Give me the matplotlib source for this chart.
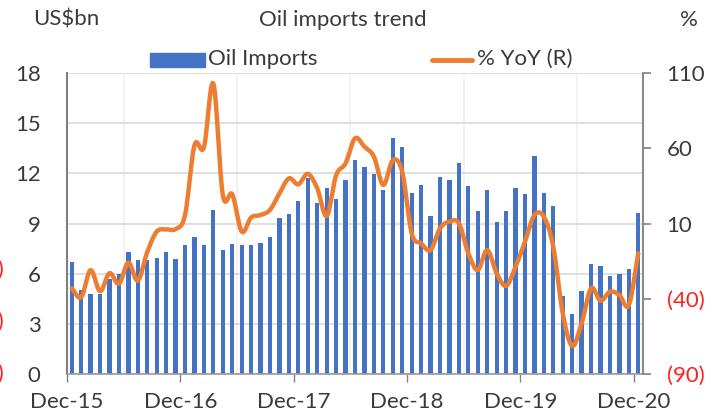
import numpy as np
import matplotlib
matplotlib.use("Agg")
import matplotlib.pyplot as plt
from matplotlib.patches import Rectangle
from matplotlib.lines import Line2D

plt.rcParams['font.family'] = ['Lato', 'DejaVu Sans']

# monthly data, Dec-15 .. Dec-20
imports_bn = [6.68, 5.04, 4.80, 4.80, 5.70, 6.00, 7.30, 6.82, 6.82, 6.92, 7.28, 6.86,
              7.70, 8.19, 7.74, 9.79, 7.40, 7.78, 7.70, 7.72, 7.84, 8.19, 9.33, 9.57,
              10.37, 11.70, 10.21, 11.14, 10.49, 11.60, 12.80, 12.36, 11.96, 11.00, 14.13, 13.56,
              10.81, 11.28, 9.45, 11.80, 11.60, 12.62, 11.22, 9.77, 11.02, 9.11, 9.75, 11.10,
              10.77, 13.04, 10.81, 10.07, 4.64, 3.57, 4.99, 6.56, 6.44, 5.84, 6.00, 6.28,
              9.61]
yoy_pct = [-33, -39, -21, -35, -23, -30, -16, -28, -9, 4.6, 6.1, 6.3,
           15.6, 62, 60.6, 103, 29, 29.4, 4.6, 14, 15.6, 19, 30, 40,
           36, 43, 33.4, 15, 42, 50, 66.6, 61, 54.4, 35.6, 52, 44.4,
           3.5, -3.2, -7.6, 6.8, 11.2, 10.1, -9.8, -20.9, -7.6, -23, -31.5, -18.7,
           -2.1, 15.6, 14.5, -5.4, -49.7, -71.4, -56.3, -33.1, -41.3, -35.3, -37.5, -44.2,
           -9.8]
tick_labels = ['Dec-15', 'Dec-16', 'Dec-17', 'Dec-18', 'Dec-19', 'Dec-20']
right_ticks = [110, 60, 10, -40, -90]

BLUE = '#4472C4'
ORANGE = '#ED7D31'
TXT = '#3a3a3a'
FS = 16


def smooth(x, y, n=12):
    # catmull-rom style smoothing like excel's smoothed line
    x = np.asarray(x, float)
    y = np.asarray(y, float)
    px = np.concatenate([[2 * x[0] - x[1]], x, [2 * x[-1] - x[-2]]])
    py = np.concatenate([[2 * y[0] - y[1]], y, [2 * y[-1] - y[-2]]])
    xs, ys = [], []
    t = np.linspace(0, 1, n, endpoint=False)
    for i in range(1, len(px) - 2):
        for p, out in ((px, xs), (py, ys)):
            p0, p1, p2, p3 = p[i - 1], p[i], p[i + 1], p[i + 2]
            out.extend(0.5 * (2 * p1 + (-p0 + p2) * t + (2 * p0 - 5 * p1 + 4 * p2 - p3) * t ** 2
                              + (-p0 + 3 * p1 - 3 * p2 + p3) * t ** 3))
    xs.append(x[-1])
    ys.append(y[-1])
    return np.array(xs), np.array(ys)


fig = plt.figure(figsize=(7.2, 4.16), dpi=100)
W, H = 720, 416
ax = fig.add_axes([67 / W, 1 - 374 / H, 576 / W, 301 / H])

n = len(imports_bn)
x = np.arange(n) + 0.5
ax.bar(x, imports_bn, width=0.45, color=BLUE, zorder=2)
ax.set_xlim(0, n)
ax.set_ylim(0, 18)
ax.set_yticks(np.arange(0, 19, 3))
ax.set_xticks(np.arange(0, n, 12))
ax.set_xticklabels(tick_labels)
ax.set_xticks(np.arange(0, n, 6), minor=True)

ax.grid(axis='y', color='#D9D9D9', lw=1.2, zorder=0)
ax.grid(axis='x', which='minor', color='#F0F0F0', lw=1.2, zorder=0)
ax.set_axisbelow(True)
ax.tick_params(axis='y', length=0, pad=19, labelsize=FS, labelcolor=TXT)
ax.tick_params(axis='x', which='major', length=6, width=1, color='#808080', pad=7,
               labelsize=FS, labelcolor=TXT)
ax.tick_params(axis='x', which='minor', length=0)
for s in ['top', 'right']:
    ax.spines[s].set_visible(False)
ax.spines['left'].set_color('#7f7f7f')
ax.spines['left'].set_linewidth(1.5)
ax.spines['bottom'].set_color('#9a9a9a')
ax.spines['bottom'].set_linewidth(1.2)

ax2 = ax.twinx()
sx, sy = smooth(x, yoy_pct)
ax2.plot(sx, sy, color=ORANGE, lw=3.2, solid_capstyle='round', zorder=3)
ax2.set_ylim(-90, 110)
ax2.set_yticks(right_ticks)
ax2.set_yticklabels([str(v) if v >= 0 else '(%d)' % -v for v in right_ticks])
for lab, v in zip(ax2.get_yticklabels(), right_ticks):
    lab.set_color('#FF2020' if v < 0 else TXT)
ax2.tick_params(axis='y', length=6, width=1.2, color='#808080', pad=11, labelsize=FS)
for s in ['top', 'left', 'bottom']:
    ax2.spines[s].set_visible(False)
ax2.spines['right'].set_color('#8a8a8a')
ax2.spines['right'].set_linewidth(1.5)

# titles
fig.text(343 / W, 1 - 20 / H, 'Oil imports trend', ha='center', va='center', fontsize=FS, color=TXT)
fig.text(33 / W, 1 - 20 / H, 'US$bn', ha='left', va='center', fontsize=FS, color=TXT)
fig.text(698 / W, 1 - 20 / H, '%', ha='right', va='center', fontsize=FS, color=TXT)

# legend drawn by hand
fig.add_artist(Rectangle((150 / W, 1 - 67 / H), 55 / W, 14 / H, transform=fig.transFigure,
                         color=BLUE))
fig.text(208 / W, 1 - 59 / H, 'Oil Imports', ha='left', va='center', fontsize=FS, color=TXT)
fig.add_artist(Line2D([432 / W, 472 / W], [1 - 60 / H, 1 - 60 / H], transform=fig.transFigure,
                      color=ORANGE, lw=3.5, solid_capstyle='round'))
fig.text(477 / W, 1 - 59 / H, '% YoY (R)', ha='left', va='center', fontsize=FS, color=TXT)

# clipped red labels peeking in at the left edge
for yy in (270, 322, 374):
    fig.text(4 / W, 1 - yy / H, '(40)', ha='right', va='center', fontsize=FS, color='#FF2020')

fig.savefig('out.png', dpi=100)
